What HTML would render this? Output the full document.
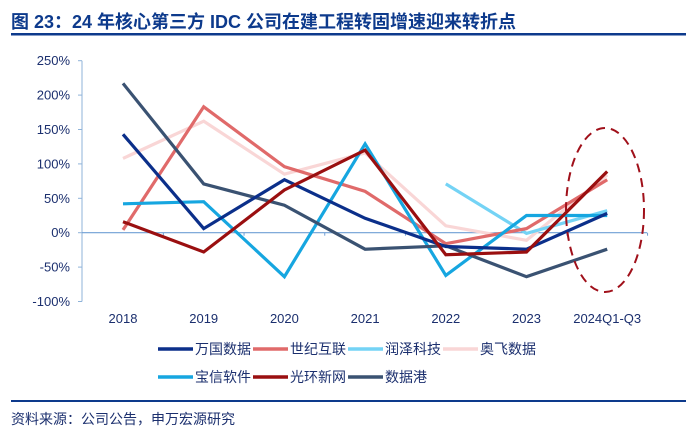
<!DOCTYPE html>
<html><head><meta charset="utf-8"><style>
body{margin:0;width:686px;height:437px;background:#fff;overflow:hidden;font-family:"Liberation Sans","Noto Sans CJK SC",sans-serif}
</style></head><body>
<svg id="c" width="686" height="437" xmlns="http://www.w3.org/2000/svg">
<text x="11" y="28" font-size="18" font-weight="bold" fill="#0d3a8c" font-family="Liberation Sans, Noto Sans CJK SC, sans-serif">图 23：24 年核心第三方 IDC 公司在建工程转固增速迎来转折点</text>
<rect x="11" y="33" width="675" height="2.5" fill="#0d3a8c"/>
<rect x="11" y="400" width="675" height="2" fill="#0d3a8c"/>
<text x="11" y="424" font-size="14" fill="#1b2f6e" font-family="Liberation Sans, Noto Sans CJK SC, sans-serif">资料来源：公司公告，申万宏源研究</text>
<g id="plot"></g>
</svg>
<script>
const categories=["2018","2019","2020","2021","2022","2023","2024Q1-Q3"];
const yTicks=[250,200,150,100,50,0,-50,-100];
const seriesNames=["万国数据","世纪互联","润泽科技","奥飞数据","宝信软件","光环新网","数据港"];
const seriesColors=["#0b2f8a","#e06a6a","#74d3f5","#f9d6d6","#16a6e0","#9a0f10","#3a5272"];
const wanguo=[143,6,77,21,-20,-24,28];
const shiji=[4,183,96,60,-16,6,77];
const runze=[null,null,null,null,71,-1,32];
const aofei=[108,162,85,116,10,-11,84];
const baoxin=[42,45,-64,129,-62,25,25];
const guanghuan=[16,-28,62,120,-32,-28,89];
const shujugang=[217,71,40,-24,-19,-64,-24];
const allSeries=[aofei,runze,shiji,baoxin,shujugang,wanguo,guanghuan];
const allIdx=[3,2,1,4,6,0,5];
const NS="http://www.w3.org/2000/svg";
const g=document.getElementById('plot');
const y0=232.7,pp=0.688;
const yS=v=>y0-v*pp;
const xS=i=>123+i*80.7;
function mk(t,a){const e=document.createElementNS(NS,t);for(const k in a)e.setAttribute(k,a[k]);g.appendChild(e);return e;}
let ax=mk('line',{x1:82,y1:yS(250),x2:82,y2:yS(-100),stroke:'#8fb3d9','stroke-width':1});


let zx=mk('line',{x1:82,y1:y0,x2:647,y2:y0,stroke:'#6f9fd4','stroke-width':1.2});


yTicks.forEach(v=>{
 let t=mk('line',{x1:78,x2:82,y1:yS(v),y2:yS(v),stroke:'#8fb3d9'});
 
 
 let l=mk('text',{x:70,y:yS(v)+4.5,'text-anchor':'end','font-size':13,fill:'#1b2f6e'});
 l.textContent=v+'%';
 
 
});
categories.forEach((c,i)=>{
 let t=mk('line',{x1:xS(i)+40.35,x2:xS(i)+40.35,y1:y0,y2:y0+3,stroke:'#6f9fd4'});
 
 
 let l=mk('text',{x:xS(i),y:323,'text-anchor':'middle','font-size':13,fill:'#1b2f6e'});
 l.textContent=c;
 
 
});
allSeries.forEach((s,k)=>{
 const idx=allIdx[k];let d='';let pen=false;
 s.forEach((v,i)=>{if(v===null){pen=false;return;}d+=(pen?'L':'M')+xS(i).toFixed(1)+' '+yS(v).toFixed(1)+' ';pen=true;});
 let p=mk('path',{d:d,fill:'none',stroke:seriesColors[idx],'stroke-width':3.2,'stroke-linejoin':'miter'});
 
 
});
let el=mk('ellipse',{cx:605,cy:210,rx:39,ry:82,fill:'none',stroke:'#a0101a','stroke-width':2,'stroke-dasharray':'9 6'});


seriesNames.forEach((n,i)=>{
 const col=i%4,row=Math.floor(i/4);
 const lx=158+col*95,ly=349+row*28;
 let ln=mk('line',{x1:lx,x2:lx+35,y1:ly,y2:ly,stroke:seriesColors[i],'stroke-width':3.5});
 
 
 let t=mk('text',{x:lx+37,y:ly+5,'font-size':14,fill:'#1b2f6e'});
 t.textContent=n;
 
 
});
</script>
</body></html>
